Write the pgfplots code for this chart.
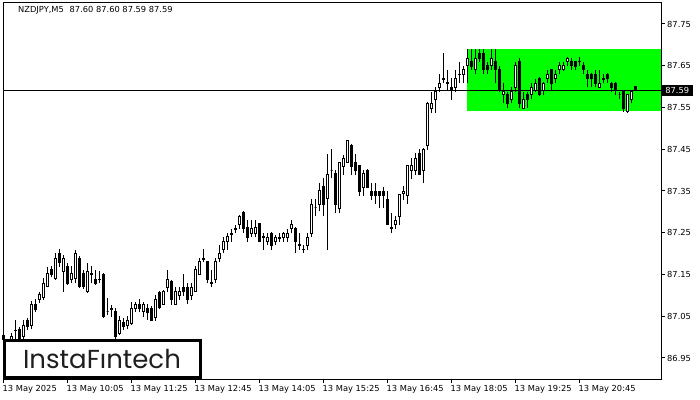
\documentclass[border=0pt]{standalone}
\usepackage{pgfplots}
\pgfplotsset{compat=1.18}
\usepackage{pgfplotstable}
\usepackage{fontspec}
\setmainfont{DejaVu Sans}
\newfontfamily\logofont{Poppins}
\definecolor{boxgreen}{RGB}{0,255,0}
\definecolor{logotext}{RGB}{30,30,30}
\pgfdeclareplotmark{blank}{}

% NZDJPY M5 candles: bar index, open, high, low, close
\pgfplotstableread{
i o h l c
0 87.005 87.010 86.985 86.995
1 86.975 86.985 86.965 86.980
2 86.993 87.011 86.985 87.001
3 87.015 87.041 86.990 87.017
4 87.019 87.025 86.985 86.993
5 87.001 87.041 86.993 87.029
6 87.041 87.045 87.017 87.025
7 87.029 87.087 87.019 87.079
8 87.079 87.091 87.061 87.067
9 87.089 87.109 87.081 87.101
10 87.095 87.141 87.089 87.129
11 87.121 87.167 87.119 87.153
12 87.161 87.170 87.145 87.151
13 87.141 87.201 87.137 87.189
14 87.201 87.210 87.169 87.178
15 87.157 87.197 87.109 87.189
16 87.170 87.177 87.125 87.129
17 87.139 87.170 87.129 87.153
18 87.141 87.209 87.129 87.201
19 87.189 87.195 87.117 87.121
20 87.153 87.160 87.115 87.121
21 87.109 87.177 87.105 87.157
22 87.149 87.170 87.129 87.153
23 87.139 87.161 87.125 87.129
24 87.137 87.159 87.129 87.139
25 87.151 87.153 87.047 87.049
26 87.061 87.093 87.053 87.061
27 87.069 87.077 87.049 87.067
28 87.061 87.069 86.993 87.001
29 87.009 87.051 87.005 87.041
30 87.035 87.045 87.017 87.025
31 87.029 87.051 87.019 87.041
32 87.033 87.085 87.029 87.069
33 87.069 87.085 87.061 87.079
34 87.079 87.091 87.059 87.069
35 87.061 87.083 87.049 87.079
36 87.069 87.079 87.041 87.059
37 87.069 87.075 87.039 87.041
38 87.047 87.101 87.039 87.091
39 87.107 87.111 87.067 87.071
40 87.079 87.113 87.077 87.109
41 87.119 87.161 87.109 87.137
42 87.133 87.137 87.077 87.089
43 87.079 87.121 87.077 87.109
44 87.099 87.121 87.089 87.109
45 87.119 87.151 87.099 87.109
46 87.119 87.129 87.079 87.089
47 87.099 87.129 87.089 87.119
48 87.109 87.171 87.107 87.161
49 87.151 87.189 87.149 87.181
50 87.187 87.211 87.179 87.189
51 87.181 87.183 87.129 87.139
52 87.131 87.161 87.119 87.129
53 87.139 87.189 87.129 87.181
54 87.189 87.221 87.181 87.201
55 87.211 87.241 87.201 87.229
56 87.229 87.249 87.209 87.241
57 87.245 87.259 87.229 87.249
58 87.257 87.269 87.249 87.259
59 87.270 87.293 87.259 87.290
60 87.299 87.301 87.249 87.259
61 87.263 87.281 87.229 87.239
62 87.249 87.281 87.239 87.261
63 87.249 87.281 87.239 87.263
64 87.271 87.273 87.229 87.229
65 87.239 87.249 87.209 87.241
66 87.229 87.249 87.221 87.239
67 87.249 87.251 87.209 87.219
68 87.229 87.245 87.221 87.239
69 87.237 87.249 87.229 87.239
70 87.239 87.251 87.229 87.249
71 87.239 87.259 87.229 87.249
72 87.259 87.281 87.249 87.270
73 87.261 87.263 87.201 87.229
74 87.221 87.249 87.209 87.219
75 87.210 87.221 87.201 87.211
76 87.219 87.249 87.209 87.239
77 87.249 87.331 87.239 87.318
78 87.311 87.331 87.289 87.311
79 87.318 87.368 87.301 87.350
80 87.360 87.380 87.289 87.318
81 87.331 87.438 87.209 87.390
82 87.400 87.450 87.380 87.400
83 87.391 87.400 87.297 87.317
84 87.309 87.420 87.297 87.418
85 87.408 87.436 87.388 87.428
86 87.418 87.472 87.416 87.470
87 87.460 87.462 87.388 87.408
88 87.418 87.438 87.388 87.399
89 87.410 87.412 87.338 87.349
90 87.359 87.400 87.338 87.391
91 87.400 87.402 87.358 87.359
92 87.349 87.369 87.329 87.339
93 87.349 87.369 87.319 87.339
94 87.349 87.350 87.309 87.339
95 87.349 87.359 87.309 87.339
96 87.330 87.349 87.269 87.269
97 87.262 87.298 87.249 87.261
98 87.269 87.289 87.260 87.279
99 87.289 87.342 87.269 87.341
100 87.345 87.361 87.329 87.349
101 87.339 87.410 87.319 87.410
102 87.400 87.428 87.378 87.410
103 87.400 87.440 87.388 87.428
104 87.439 87.450 87.388 87.390
105 87.400 87.452 87.369 87.450
106 87.458 87.562 87.448 87.560
107 87.548 87.588 87.538 87.560
108 87.568 87.600 87.538 87.588
109 87.598 87.630 87.588 87.608
110 87.617 87.680 87.608 87.620
111 87.610 87.640 87.590 87.608
112 87.598 87.620 87.568 87.590
113 87.598 87.640 87.588 87.620
114 87.628 87.660 87.608 87.630
115 87.630 87.650 87.608 87.640
116 87.650 87.690 87.608 87.668
117 87.660 87.690 87.640 87.648
118 87.640 87.690 87.630 87.668
119 87.680 87.690 87.660 87.668
120 87.680 87.690 87.630 87.640
121 87.650 87.660 87.630 87.640
122 87.650 87.690 87.640 87.668
123 87.660 87.690 87.608 87.640
124 87.640 87.650 87.588 87.590
125 87.580 87.608 87.560 87.588
126 87.580 87.588 87.548 87.560
127 87.570 87.600 87.560 87.588
128 87.598 87.660 87.588 87.650
129 87.660 87.668 87.548 87.560
130 87.548 87.588 87.546 87.570
131 87.580 87.588 87.548 87.570
132 87.580 87.608 87.570 87.598
133 87.590 87.618 87.588 87.608
134 87.620 87.622 87.578 87.580
135 87.590 87.610 87.580 87.608
136 87.620 87.640 87.608 87.630
137 87.640 87.642 87.590 87.608
138 87.620 87.640 87.608 87.630
139 87.640 87.660 87.630 87.650
140 87.640 87.660 87.638 87.650
141 87.660 87.670 87.650 87.668
142 87.660 87.668 87.640 87.650
143 87.660 87.662 87.640 87.648
144 87.660 87.670 87.650 87.661
145 87.650 87.660 87.630 87.640
146 87.630 87.640 87.598 87.620
147 87.630 87.632 87.598 87.620
148 87.630 87.640 87.598 87.608
149 87.598 87.640 87.596 87.608
150 87.618 87.630 87.608 87.620
151 87.630 87.632 87.608 87.620
152 87.608 87.610 87.588 87.598
153 87.608 87.610 87.580 87.590
154 87.580 87.588 87.570 87.580
155 87.588 87.590 87.540 87.548
156 87.540 87.580 87.538 87.580
157 87.570 87.590 87.560 87.588
158 87.600 87.600 87.590 87.590
}\candles

\begin{document}
\begin{tikzpicture}
\path[use as bounding box] (0,0) rectangle (700bp,400bp);
\begin{axis}[
  at={(3bp,21bp)}, anchor=south west,
  scale only axis, width=658bp, height=376bp,
  xmin=-0.125, xmax=164.375, ymin=86.8997, ymax=87.8003,
  clip mode=individual,
  axis line style={line width=1bp},
  tick style={black, line width=1bp},
  tick align=outside, major tick length=4bp,
  xtick pos=left, ytick pos=right, yticklabel pos=right,
  xtick={0,16,32,48,64,80,96,112,128,144},
  xticklabels={13 May 2025,13 May 10:05,13 May 11:25,13 May 12:45,13 May 14:05,
    13 May 15:25,13 May 16:45,13 May 18:05,13 May 19:25,13 May 20:45},
  ytick={86.95,87.05,87.15,87.25,87.35,87.45,87.55,87.65,87.75},
  yticklabels={86.95,87.05,87.15,87.25,87.35,87.45,87.55,87.65,87.75},
  ticklabel style={font=\fontsize{8.3bp}{10bp}\selectfont, inner sep=0pt},
  xticklabel style={anchor=north west, xshift=-1bp, yshift=-2bp},
  yticklabel style={anchor=west, xshift=2bp},
]
% pattern rectangle
\addplot[fill=boxgreen, draw=none] coordinates {
  (115.875,87.541) (164.375,87.541) (164.375,87.690) (115.875,87.690)} -- cycle;
% bid line
\addplot[black, line width=1bp] coordinates {(-0.125,87.59) (164.375,87.59)};
% candles
\addplot[
  scatter, only marks, mark=blank,
  visualization depends on={\thisrow{h}-\thisrow{o} \as \dh},
  visualization depends on={\thisrow{l}-\thisrow{o} \as \dl},
  visualization depends on={\thisrow{c}-\thisrow{o} \as \dc},
  scatter/@pre marker code/.code={%
    \pgfmathtruncatemacro\isblack{\dc<0}%
    \ifnum\isblack=1 \def\bodyfill{black}\else\def\bodyfill{white}\fi
    \draw[black, line width=1bp] (axis direction cs:0,\dl) -- (axis direction cs:0,\dh);
    \filldraw[draw=black, fill=\bodyfill, line width=1bp]
      (axis direction cs:-0.25,0) rectangle (axis direction cs:0.25,\dc);
  },
  scatter/@post marker code/.code={},
] table[x=i, y=o] {\candles};

\node[anchor=west, inner sep=0pt, font=\fontsize{8.3bp}{10bp}\selectfont]
  at ([xshift=15bp, yshift=-7bp]rel axis cs:0,1) {NZDJPY,M5\hspace{0.7em}87.60 87.60 87.59 87.59};
\node[anchor=west, fill=black, text=white, inner sep=0pt, minimum width=32bp,
  minimum height=11bp, font=\fontsize{8.3bp}{10bp}\selectfont]
  at (axis cs:164.375,87.59) {87.59};
\end{axis}
% logo
\draw[line width=3bp, fill=white] (4.5bp,22.5bp) rectangle (200.5bp,59.5bp);
\node[font=\logofont\fontsize{26bp}{30bp}\selectfont, text=logotext, inner sep=0pt]
  at (102bp,41bp) {InstaFıntech};
\end{tikzpicture}
\end{document}
